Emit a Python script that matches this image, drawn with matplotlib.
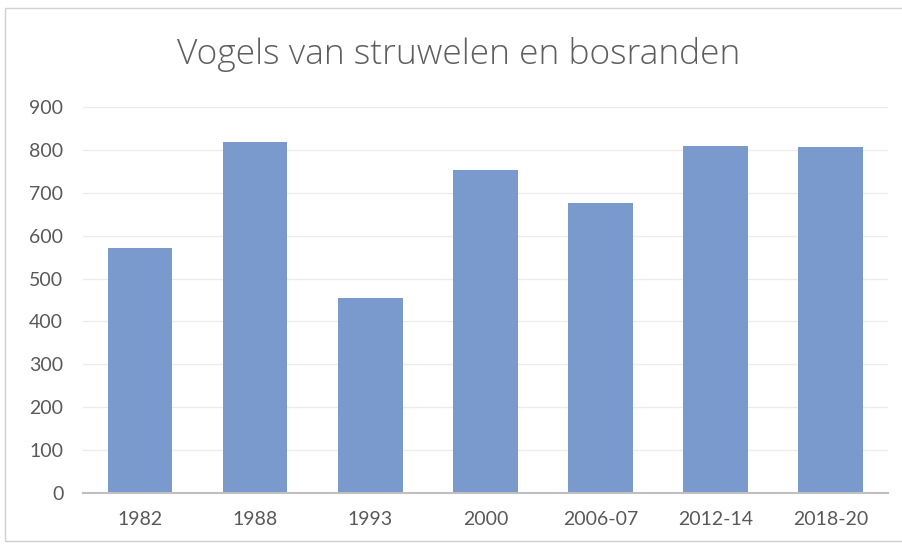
import matplotlib
matplotlib.use("Agg")
import matplotlib.pyplot as plt
from matplotlib.patches import Rectangle
import numpy as np

# Gegevens
categories = ["1982", "1988", "1993", "2000", "2006-07", "2012-14", "2018-20"]
values = [572, 817, 455, 753, 676, 809, 806]
y_ticks = [0, 100, 200, 300, 400, 500, 600, 700, 800, 900]

plt.rcParams['font.family'] = ['Lato', 'DejaVu Sans']

fig = plt.figure(figsize=(9.02, 5.46), dpi=100)
ax = fig.add_axes([0.0917, 0.0965, 0.8928, 0.7081])

x = np.arange(len(categories))
ax.bar(x, values, width=0.56, color="#7A9ACE", zorder=2)

ax.set_xlim(-0.5, len(categories) - 0.5)
ax.set_ylim(0, 900)
ax.set_yticks(y_ticks)
ax.set_xticks(x)
ax.set_xticklabels(categories)

# Rasterlijnen en assen
ax.grid(axis="y", color="#ececec", linewidth=1, zorder=0)
for side in ["top", "right", "left"]:
    ax.spines[side].set_visible(False)
ax.spines["bottom"].set_color("#bfbfbf")
ax.spines["bottom"].set_linewidth(1.5)
ax.tick_params(axis="both", length=0, colors="#595959", labelsize=14)
ax.tick_params(axis="x", pad=13)
ax.tick_params(axis="y", pad=14)

fig.text(0.508, 0.9, "Vogels van struwelen en bosranden", ha="center", va="center",
         fontsize=25.5, color="#5f5f5f", fontweight="light",
         family=["Open Sans", "DejaVu Sans"])

# Kader rond de grafiek
fig.patches.append(Rectangle((0.006, 0.01), 1.2, 0.975, transform=fig.transFigure,
                             fill=False, edgecolor="#d0d0d0", linewidth=1))

plt.savefig("out.png", dpi=100)
plt.close('all')
